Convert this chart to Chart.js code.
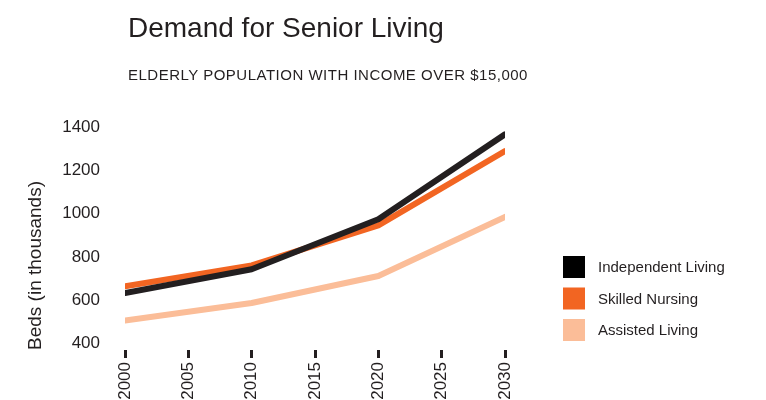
<!DOCTYPE html>
<html>
<head>
<meta charset="utf-8">
<script src="https://cdn.jsdelivr.net/npm/chart.js@4.4.1/dist/chart.umd.min.js"></script>
<style>
  body { margin: 0; background: #fff; font-family: 'Liberation Sans', Arial, sans-serif; }
  #wrap { position: relative; width: 766px; height: 400px; }
  .title { position: absolute; left: 128px; top: 14px; font-size: 28px; line-height: 1; color: #231f20; white-space: nowrap; }
  .subtitle { position: absolute; left: 128px; top: 67px; font-size: 15px; letter-spacing: 0.5px; line-height: 1; color: #231f20; white-space: nowrap; }
</style>
</head>
<body>
<div id="wrap">
  <canvas id="myChart"></canvas>
  <div class="title">Demand for Senior Living</div>
  <div class="subtitle">ELDERLY POPULATION WITH INCOME OVER $15,000</div>
</div>
<script>
// data
let years = [2000, 2010, 2020, 2030]
let independentLiving = [633, 743, 974, 1366]
let skilledNursing = [664, 761, 946, 1289]
let assistedLiving = [506, 587, 712, 985]
let yTicks = [400, 600, 800, 1000, 1200, 1400]
let xTicks = [2000, 2005, 2010, 2015, 2020, 2025, 2030]

let textColor = '#231f20'
let fontFamily = "'Liberation Sans', Arial, sans-serif"
let tickFont = { family: fontFamily, size: 17 }

function toPoints(values) {
    return values.map((v, i) => ({ x: years[i], y: v }))
}

function makeSet(label, values, color, box) {
    return {
        label: label,
        data: toPoints(values),
        borderColor: color,
        backgroundColor: box,
        borderWidth: 6,
        pointRadius: 0,
        borderJoinStyle: 'round',
        borderCapStyle: 'round',
        tension: 0
    }
}

// legend drawn to the right of the plot, stacked near the bottom
let sideLegend = {
    id: 'sideLegend',
    afterDraw(chart) {
        let c = chart.ctx
        let area = chart.chartArea
        let x = area.right + 58
        c.save()
        c.font = '15px ' + fontFamily
        c.textBaseline = 'middle'
        chart.data.datasets.forEach((ds, i) => {
            let top = area.bottom - 94 + i * 31.5
            c.fillStyle = ds.backgroundColor
            c.fillRect(x, top, 22, 22)
            c.fillStyle = textColor
            c.fillText(ds.label, x + 35, top + 12)
        })
        c.restore()
    }
}

let ctx = document.getElementById('myChart').getContext('2d')
new Chart(ctx, {
    type: 'line',
    data: {
        datasets: [
            makeSet('Independent Living', independentLiving, '#231f20', '#000000'),
            makeSet('Skilled Nursing', skilledNursing, '#f26522', '#f26522'),
            makeSet('Assisted Living', assistedLiving, '#fbbd98', '#fbbd98')
        ]
    },
    plugins: [sideLegend],
    options: {
        responsive: true,
        maintainAspectRatio: false,
        animation: false,
        layout: { padding: { top: 127, left: 0, right: 261, bottom: 0 } },
        plugins: {
            tooltip: { enabled: false },
            legend: { display: false }
        },
        scales: {
            x: {
                type: 'linear',
                min: 2000,
                max: 2030,
                afterBuildTicks: scale => { scale.ticks = xTicks.map(v => ({ value: v })) },
                afterFit: scale => { scale.height = 50 },
                grid: { display: true, drawOnChartArea: false, drawTicks: true, tickLength: 8, tickColor: '#231f20', tickWidth: 3 },
                border: { display: false },
                ticks: { color: textColor, font: tickFont, minRotation: 90, maxRotation: 90, padding: 4, callback: v => String(v) }
            },
            y: {
                min: 370,
                max: 1400,
                afterBuildTicks: scale => { scale.ticks = yTicks.map(v => ({ value: v })) },
                afterFit: scale => { scale.width = 125 },
                grid: { display: false, drawTicks: false },
                border: { display: false },
                ticks: { color: textColor, font: tickFont, padding: 25, callback: v => String(v) },
                title: { display: true, align: 'start', text: 'Beds (in thousands)', color: textColor, font: { family: fontFamily, size: 19 }, padding: { top: 24, bottom: 4 } }
            }
        }
    }
})
</script>
</body>
</html>
